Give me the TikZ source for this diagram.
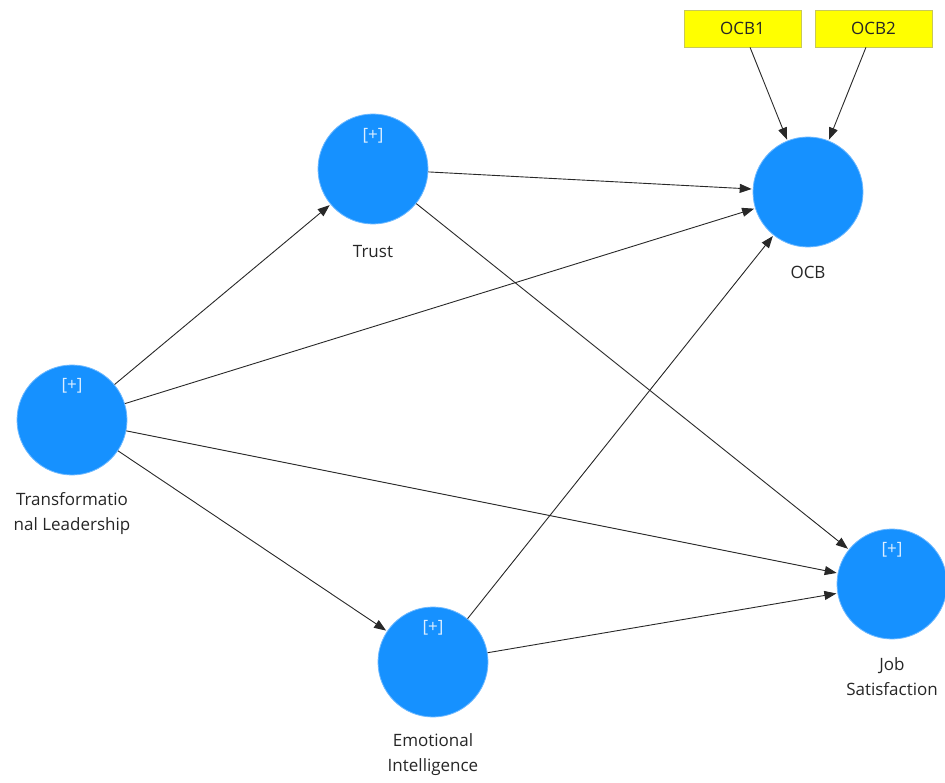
\documentclass[tikz,border=0pt]{standalone}
\usepackage{fontspec}
\setmainfont{Open Sans}
\usetikzlibrary{arrows.meta}
\definecolor{lvblue}{RGB}{22,145,255}
\definecolor{lvrim}{RGB}{110,185,255}
\definecolor{indyellow}{RGB}{255,255,0}
\definecolor{indborder}{RGB}{200,200,90}
\definecolor{linegray}{RGB}{40,40,40}
\begin{document}
\begin{tikzpicture}[x=1pt,y=-1pt,
  latent/.style={circle,fill=lvblue,draw=lvrim,line width=0.8pt,minimum size=110pt,inner sep=0pt},
  indicator/.style={rectangle,fill=indyellow,draw=indborder,line width=0.8pt,minimum width=117pt,minimum height=37pt,inner sep=0pt,font=\fontsize{17}{20}\selectfont,text=black!85},
  lbl/.style={font=\fontsize{17}{25}\selectfont,text=black!85,align=center},
  plus/.style={font=\fontsize{17}{18}\selectfont,text=white!85!lvblue},
  path/.style={draw=linegray,line width=0.9pt,-{Triangle[length=12pt,width=9pt]},shorten >=1pt}]
\useasboundingbox (0,0) rectangle (945,783);
% latent variables
\node[latent] (trust) at (373,169) {};
\node[latent] (ocb) at (808,192) {};
\node[latent] (tl) at (72,420) {};
\node[latent] (ei) at (433,662) {};
\node[latent] (js) at (892,584) {};
% reflective indicators of OCB
\node[indicator] (ocb1) at (742.5,28.5) {OCB1};
\node[indicator] (ocb2) at (873.5,28.5) {OCB2};
% construct markers
\node[plus] at (373,136) {[+]};
\node[plus] at (72,386) {[+]};
\node[plus] at (433,628) {[+]};
\node[plus] at (892,550) {[+]};
% construct names
\node[lbl] (ltrust) at (373,252) {Trust};
\node[lbl] (locb) at (808,272) {OCB};
\node[lbl] (ltl) at (72,514) {Transformatio\\nal Leadership};
\node[lbl] (lei) at (433,755) {Emotional\\Intelligence};
\node[lbl] (ljs) at (892,677) {Job\\Satisfaction};
% structural paths
\draw[path] (tl) -- (trust);
\draw[path] (tl) -- (ocb);
\draw[path] (tl) -- (js);
\draw[path] (tl) -- (ei);
\draw[path] (trust) -- (ocb);
\draw[path] (trust) -- (js);
\draw[path] (ei) -- (ocb);
\draw[path] (ei) -- (js);
% measurement paths
\draw[path] (ocb1) -- (ocb);
\draw[path] (ocb2) -- (ocb);
\end{tikzpicture}
\end{document}
